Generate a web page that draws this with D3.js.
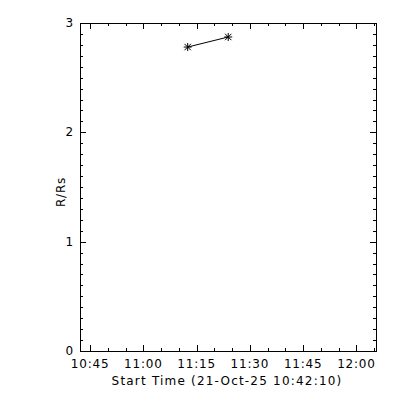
<!DOCTYPE html>
<html>
<head>
<meta charset="utf-8">
<script src="https://cdn.jsdelivr.net/npm/d3@7"></script>
<style>
  body { margin: 0; background: #fff; }
  text { font-family: "DejaVu Sans", sans-serif; font-size: 12px; fill: #000; letter-spacing: 0.8px; }
</style>
</head>
<body>
<div id="chart"></div>
<script>
// data: times of the two measurements and the height (R/Rs)
var startTime = "2025-10-21T10:42:10";
var endTime = "2025-10-21T12:05:30";
var times = ["2025-10-21T11:12:29", "2025-10-21T11:23:54"];
var heights = [2.78, 2.872];
var yTicks = [0, 1, 2, 3];
var xTickLabels = ["10:45", "11:00", "11:15", "11:30", "11:45", "12:00"];
var xTitle = "Start Time (21-Oct-25 10:42:10)";
var yTitle = "R/Rs";

var width = 400, height = 400;
var mLeft = 80, mRight = 376, mTop = 23, mBottom = 351;
var majLen = 6, minLen = 3;

var svg = d3.select("#chart").append("svg").attr("width", width).attr("height", height);

var x = d3.scaleTime().domain([new Date(startTime), new Date(endTime)]).range([mLeft, mRight]);
var y = d3.scaleLinear().domain([0, 3]).range([mBottom, mTop]);

var day = "2025-10-21T";
var xMajor = xTickLabels.map(function(t) { return new Date(day + t + ":00"); });
var xMinor = d3.timeMinute.every(5).range(x.domain()[0], x.domain()[1]);
var yMinor = d3.range(0, 31).map(function(i) { return i / 10; });

var g = svg.append("g").attr("stroke", "#000").attr("stroke-width", 1).attr("shape-rendering", "crispEdges");

// frame
g.append("rect").attr("x", mLeft + 0.5).attr("y", mTop + 0.5).attr("width", mRight - mLeft).attr("height", mBottom - mTop).attr("fill", "none");

// x ticks, bottom and top
xMinor.forEach(function(d) {
  var px = Math.round(x(d)) + 0.5;
  var isMaj = d.getMinutes() % 15 == 0;
  var len = isMaj ? majLen : minLen;
  g.append("line").attr("x1", px).attr("x2", px).attr("y1", mBottom).attr("y2", mBottom - len);
  g.append("line").attr("x1", px).attr("x2", px).attr("y1", mTop).attr("y2", mTop + len);
});

// y ticks, left and right
yMinor.forEach(function(v, i) {
  var py = Math.round(y(v)) + 0.5;
  var len = i % 10 == 0 ? majLen : minLen;
  g.append("line").attr("x1", mLeft).attr("x2", mLeft + len).attr("y1", py).attr("y2", py);
  g.append("line").attr("x1", mRight).attr("x2", mRight - len).attr("y1", py).attr("y2", py);
});

// tick labels
svg.selectAll(".xl").data(xMajor).enter().append("text")
  .attr("x", function(d) { return x(d); })
  .attr("y", 368)
  .attr("text-anchor", "middle")
  .text(function(d, i) { return xTickLabels[i]; });

svg.selectAll(".yl").data(yTicks).enter().append("text")
  .attr("x", 74)
  .attr("y", function(d) { return y(d) + 4; })
  .attr("text-anchor", "end")
  .text(function(d) { return d; });

// titles
svg.append("text").attr("x", 227).attr("y", 385).attr("text-anchor", "middle")
  .style("letter-spacing", "1.2px").text(xTitle);
svg.append("text").attr("transform", "translate(65," + ((mTop + mBottom) / 2 + 5) + ") rotate(-90)")
  .attr("text-anchor", "middle").text(yTitle);

// data line and asterisks
var pts = times.map(function(t, i) { return [x(new Date(t)), y(heights[i])]; });
svg.append("path").attr("d", d3.line()(pts)).attr("fill", "none").attr("stroke", "#000").attr("stroke-width", 1);

var s = 4;
pts.forEach(function(p) {
  var star = svg.append("g").attr("stroke", "#000").attr("stroke-width", 1);
  star.append("line").attr("x1", p[0] - s).attr("x2", p[0] + s).attr("y1", p[1]).attr("y2", p[1]);
  star.append("line").attr("x1", p[0]).attr("x2", p[0]).attr("y1", p[1] - s).attr("y2", p[1] + s);
  star.append("line").attr("x1", p[0] - s * 0.8).attr("x2", p[0] + s * 0.8).attr("y1", p[1] - s * 0.8).attr("y2", p[1] + s * 0.8);
  star.append("line").attr("x1", p[0] - s * 0.8).attr("x2", p[0] + s * 0.8).attr("y1", p[1] + s * 0.8).attr("y2", p[1] - s * 0.8);
});
</script>
</body>
</html>
